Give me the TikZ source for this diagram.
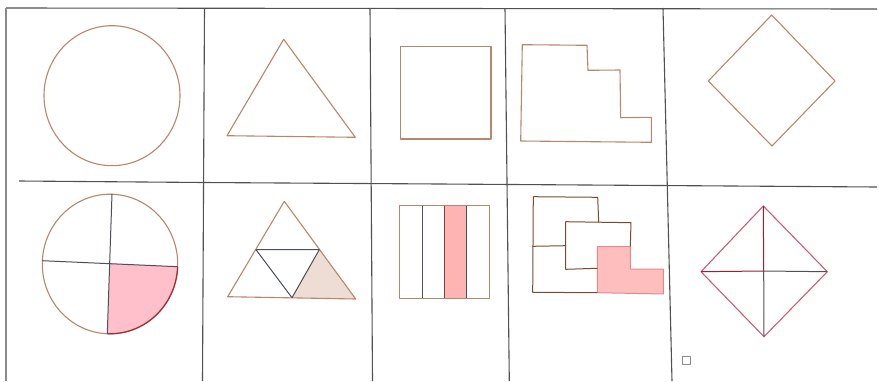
\documentclass[tikz,border=0pt]{standalone}
\definecolor{gridc}{HTML}{505050}
\definecolor{borderc}{HTML}{8A8A8A}
\definecolor{shapec}{HTML}{B8866A}
\definecolor{darkshape}{HTML}{7A4A30}
\definecolor{innerc}{HTML}{4A5058}
\definecolor{pinkc}{HTML}{FFC0CB}
\definecolor{pinkrect}{HTML}{FFB4B4}
\definecolor{pinkL}{HTML}{FFBEBE}
\definecolor{pinkLedge}{HTML}{E08A8A}
\definecolor{arcred}{HTML}{A8283A}
\definecolor{beige}{HTML}{EEDDD4}
\definecolor{diamc}{HTML}{CC5C7A}
\definecolor{diamdark}{HTML}{9A1E34}
\begin{document}
\begin{tikzpicture}[x=1pt,y=-1pt,line join=round,
  gridline/.style={draw=gridc,line width=1.1pt},
  borderline/.style={draw=borderc,line width=2pt},
  outline/.style={draw=shapec,line width=1.1pt},
  darkline/.style={draw=darkshape,line width=1pt},
  innerline/.style={draw=innerc,line width=1pt}]
\useasboundingbox (0,0) rectangle (879,381);
\fill[white] (0,0) rectangle (879,381);

% grid
\draw[gridline] (6,8) -- (877,9);
\draw[gridline] (19,181) -- (204,182.5) -- (440,184) -- (877,187);
\draw[gridline] (204.5,8) -- (202.5,381);
\draw[gridline] (370,8) -- (372.5,381);
\draw[gridline] (505,8) -- (509.3,381);
\draw[gridline] (663,8) -- (672,381);
\draw[borderline] (6,8) -- (6,381);

% top row
\draw[outline] (112,95.7) ellipse [x radius=68, y radius=70];
\draw[outline] (283.7,39.3) -- (355.3,137.3) -- (227,135.7) -- cycle;
\draw[outline] (400.7,46.3) rectangle (491,139);
\draw[outline] (522.3,44.7) -- (587,45.3) -- (588,70.3) -- (620,70) -- (620.7,117.7)
  -- (651.3,117.3) -- (651.3,142.3) -- (520.7,141) -- cycle;
\draw[outline] (771.7,15) -- (835,81) -- (772,146) -- (708.3,81) -- cycle;

% bottom row: circle in quarters
\coordinate (cc) at (109.7,263.3);
\begin{scope}
  \clip (110,264) ellipse [x radius=67.7, y radius=69.8];
  \fill[pinkc] (cc) -- (200,267.8) -- (200,350) -- (106.8,350) -- cycle;
\end{scope}
\draw[outline] (110,264) ellipse [x radius=67.7, y radius=69.8];
\begin{scope}
  \clip (cc) -- (200,267.8) -- (200,350) -- (106.8,350) -- cycle;
  \draw[draw=arcred,line width=1.2pt] (110,264) ellipse [x radius=67.7, y radius=69.8];
\end{scope}
\draw[innerline] (112,194) -- (107.3,333.7);
\draw[innerline] (42.3,260.7) -- (177.7,266.7);

% bottom row: triangle in four
\coordinate (ta) at (284.3,201.3);
\coordinate (tl) at (227.7,296.7);
\coordinate (tr) at (355.7,299);
\coordinate (ml) at (256,249.7);
\coordinate (mr) at (319.3,249.7);
\coordinate (mb) at (292,297.7);
\fill[beige] (mr) -- (tr) -- (mb) -- cycle;
\draw[outline] (ta) -- (tr) -- (tl) -- cycle;
\draw[innerline] (ml) -- (mr) -- (mb) -- cycle;

% bottom row: rectangle in four strips
\fill[pinkrect] (444.3,205.7) rectangle (466.7,298.3);
\draw[outline] (399.3,205.7) rectangle (489.3,298.3);
\draw[innerline] (422,205.7) -- (422,298.3);
\draw[draw=darkshape,line width=1pt] (444.3,205.7) -- (444.3,298.3);
\draw[innerline] (466.7,205.7) -- (466.7,298.3);

% bottom row: stair shape in pieces
\fill[pinkL] (597.3,246.7) -- (630.3,246.7) -- (630.3,269) -- (663.3,269) -- (663.3,294)
  -- (597.3,292.7) -- cycle;
\draw[draw=pinkLedge,line width=1pt] (597.3,246.7) -- (630.3,246.7) -- (630.3,269) -- (663.3,269) -- (663.3,294)
  -- (597.3,292.7) -- cycle;
\draw[darkline] (533.3,196.7) -- (597.7,197.3) -- (598.7,222.3);
\draw[darkline] (533.3,196.7) -- (532.7,292.3) -- (597.3,292.7);
\draw[darkline] (532.7,246.3) -- (565.7,245.7);
\draw[darkline] (630.3,246.7) -- (631,222.7) -- (565.7,221.7) -- (565.7,269.3) -- (597.3,268.3);

% bottom row: diamond in four
\coordinate (dt) at (763.3,206);
\coordinate (dr) at (827.3,271.7);
\coordinate (db) at (764,336.7);
\coordinate (dl) at (701,271.7);
\coordinate (dc) at (763.7,271);
\draw[draw=diamc,line width=1.1pt] (dt) -- (dr) -- (db) -- (dl) -- cycle;
\draw[draw=diamdark,line width=1pt] (dt) -- (dc) -- (dl);
\draw[draw=gridc,line width=1pt] (dr) -- (dc) -- (db);

% small square
\draw[draw=borderc,line width=1pt] (682.7,356.7) rectangle (690,364);
\end{tikzpicture}
\end{document}
